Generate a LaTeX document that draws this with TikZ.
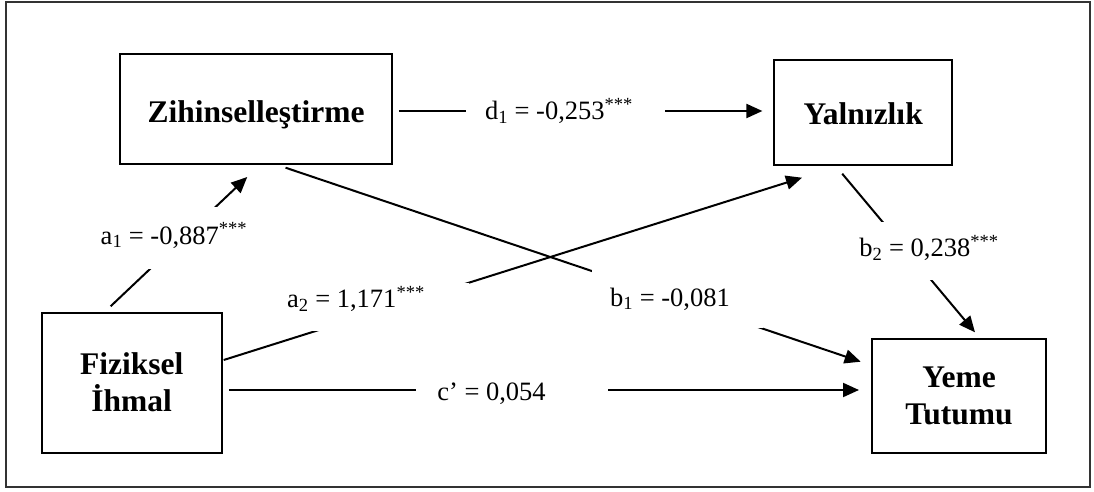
\documentclass[tikz,border=0pt]{standalone}
\usepackage{fontspec}
\setmainfont{Liberation Serif}
\usetikzlibrary{arrows.meta,calc}
\begin{document}
\begin{tikzpicture}[x=1pt,y=-1pt,
  box/.style={draw=black,line width=2pt,inner sep=0pt,align=center,
    font=\fontsize{31.5}{37}\selectfont\bfseries},
  arr/.style={line width=2pt,-{Triangle[length=16pt,width=14pt]}},
  lab/.style={anchor=base,inner sep=0pt,font=\fontsize{26.5}{30}\selectfont},
  mask/.style={fill=white}]
\useasboundingbox (0,0) rectangle (1094,492);
\draw[line width=2pt,black!80] (6,2) rectangle (1090,487);

\node[box,minimum width=271.5pt,minimum height=110pt,text height=27pt,text depth=0pt] (Z) at (256,109) {Zihinselleştirme};
\node[box,minimum width=177.6pt,minimum height=105pt,text height=24pt,text depth=0pt] (Y) at (863.2,112.5) {Yalnızlık};
\node[box,minimum width=180pt,minimum height=140pt] (F) at (131.7,382.7) {Fiziksel\\İhmal};
\node[box,minimum width=174pt,minimum height=114pt] (T) at (959,396.3) {Yeme\\Tutumu};

\draw[arr] ([shift={(6,2)}]Z.east) -- ([shift={(-11,-1.5)}]Y.west);
\draw[arr] ([shift={(69.9,-5.4)}]F.north west) -- ([shift={(128,12)}]Z.south west);
\draw[arr] ([shift={(1,-22.7)}]F.east) -- ([shift={(28.6,11.7)}]Y.south west);
\draw[arr] ([shift={(166.3,2.7)}]Z.south west) -- ([shift={(-10.3,-34.6)}]T.west);
\draw[arr] ([shift={(68.8,7.7)}]Y.south west) -- ([shift={(104,-6)}]T.north west);
\draw[arr] ([shift={(6.6,7.3)}]F.east) -- ([shift={(-12,-6.3)}]T.west);

\fill[mask] (466,100) rectangle (665,122);
\fill[mask] (100,207) rectangle (247,269);
\fill[mask] (286,283) rectangle (469,331);
\fill[mask] (592,270) rectangle (763,328);
\fill[mask] (858,222) rectangle (1000,280);
\fill[mask] (416,380) rectangle (608,400);

\node[lab] (la1) at (174,244) {a\textsubscript{1} = -0,887\textsuperscript{***}};
\node[lab] (ld1) at (559,119.3) {d\textsubscript{1} = -0,253\textsuperscript{***}};
\node[lab] (la2) at (356,307.7) {a\textsubscript{2} = 1,171\textsuperscript{***}};
\node[lab] (lb1) at (670,306) {b\textsubscript{1} = -0,081};
\node[lab] (lb2) at (929,256.7) {b\textsubscript{2} = 0,238\textsuperscript{***}};
\node[lab] (lc) at (491.5,400) {c’ = 0,054};
\end{tikzpicture}
\end{document}
